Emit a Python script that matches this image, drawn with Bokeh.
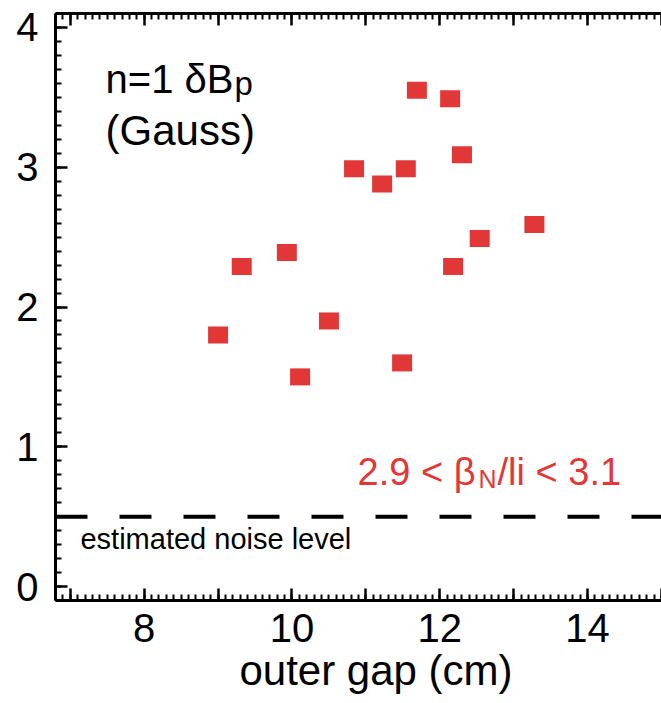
from bokeh.plotting import figure
from bokeh.models import (ColumnDataSource, Range1d, LinearAxis, SingleIntervalTicker,
                          Span, Label, CustomLabelingPolicy)
from bokeh.embed import file_html
from bokeh.resources import INLINE

# ---- data ----
outer_gap = [9.00, 9.32, 9.93, 10.11, 10.50, 10.84, 11.22, 11.54, 11.49,
             11.69, 12.14, 12.30, 12.18, 12.54, 13.28]
delta_bp = [1.80, 2.29, 2.39, 1.50, 1.90, 2.99, 2.88, 2.99, 1.60,
            3.55, 3.49, 3.09, 2.29, 2.49, 2.59]
noise_level = 0.5
x_ticks = [8, 10, 12, 14]
x_tick_labels = ["8", "10", "12", "14"]
y_ticks = [0, 1, 2, 3, 4]
y_tick_labels = ["0", "1", "2", "3", "4"]
x_title = "outer gap (cm)"

FONT = "Liberation Sans"
RED = "#e23737"

src = ColumnDataSource(data=dict(x=outer_gap, y=delta_bp))

p = figure(width=661, height=703, output_backend="svg", toolbar_location=None,
           x_range=Range1d(6.8, 15.0), y_range=Range1d(-0.1, 4.1),
           x_axis_location=None, y_axis_location=None,
           min_border_left=55, min_border_right=0, min_border_top=13,
           min_border_bottom=103)
p.outline_line_color = None
p.xgrid.visible = False
p.ygrid.visible = False
p.background_fill_color = "white"
p.border_fill_color = "white"


def style_axis(ax):
    ax.axis_line_width = 3
    ax.axis_line_color = "black"
    ax.major_tick_in = 12
    ax.major_tick_out = 0
    ax.minor_tick_in = 6
    ax.minor_tick_out = 0
    ax.major_tick_line_width = 2.5
    ax.minor_tick_line_width = 2
    ax.major_tick_line_color = "black"
    ax.minor_tick_line_color = "black"
    ax.major_label_text_font = FONT
    ax.major_label_text_color = "black"
    ax.major_label_text_font_size = "40px"


xticker = SingleIntervalTicker(interval=1, num_minor_ticks=10)
yticker = SingleIntervalTicker(interval=1, num_minor_ticks=10)

# show labels only on the even integers (long ticks on every integer)
even_only = CustomLabelingPolicy(code="""
    for (const i of indices) {
        if (i % 2 == 1) yield i
    }
""")
no_labels = CustomLabelingPolicy(code="return []")

# the original frame was wider (cropped at the right), so its title sits
# right of this frame's centre: pad it on the left with no-break spaces
xaxis = LinearAxis(ticker=xticker, axis_label="\u00a0\u00a0\u00a0" + x_title)
style_axis(xaxis)
xaxis.major_label_overrides = {t: lab for t, lab in zip(x_ticks, x_tick_labels)}
xaxis.major_label_policy = even_only
xaxis.major_label_standoff = 13
xaxis.axis_label_text_font = FONT
xaxis.axis_label_text_font_size = "42px"
xaxis.axis_label_text_font_style = "normal"
xaxis.axis_label_text_color = "black"
xaxis.axis_label_standoff = 2
p.add_layout(xaxis, "below")

xtop = LinearAxis(ticker=xticker)
style_axis(xtop)
xtop.major_label_text_font_size = "1px"
xtop.major_label_standoff = 0
xtop.major_label_policy = no_labels
p.add_layout(xtop, "above")

yaxis = LinearAxis(ticker=yticker)
style_axis(yaxis)
yaxis.major_label_overrides = {t: lab for t, lab in zip(y_ticks, y_tick_labels)}
yaxis.major_label_standoff = 17
p.add_layout(yaxis, "left")

# noise level
p.add_layout(Span(location=noise_level, dimension="width", line_color="black",
                  line_width=4, line_dash="32 32"))

# data squares
p.rect(x="x", y="y", width=20, height=17, width_units="screen",
       height_units="screen", source=src, fill_color=RED, line_color=None)

# texts
p.add_layout(Label(x=7.477, y=3.63, text="n=1 \u03b4B", text_font=FONT,
                   text_font_size="40px", text_color="black",
                   text_baseline="alphabetic"))
p.add_layout(Label(x=7.477, y=3.63, x_offset=129, y_offset=-4, text="p",
                   text_font=FONT, text_font_size="33px", text_color="black",
                   text_baseline="alphabetic"))
p.add_layout(Label(x=7.477, y=3.26, text="(Gauss)", text_font=FONT,
                   text_font_size="42px", text_color="black",
                   text_baseline="alphabetic"))

p.add_layout(Label(x=10.887, y=0.821, text="2.9 < \u03b2", text_font=FONT,
                   text_font_size="38px", text_color=RED,
                   text_baseline="alphabetic"))
p.add_layout(Label(x=10.887, y=0.821, x_offset=121, y_offset=-7, text="N",
                   text_font=FONT, text_font_size="25px", text_color=RED,
                   text_baseline="alphabetic"))
p.add_layout(Label(x=10.887, y=0.821, x_offset=140, text="/li < 3.1",
                   text_font=FONT, text_font_size="38px", text_color=RED,
                   text_baseline="alphabetic"))

p.add_layout(Label(x=7.138, y=0.343, text="estimated noise level",
                   text_font=FONT, text_font_size="29px", text_color="black",
                   text_baseline="alphabetic"))

open("out.html", "w").write(file_html(p, INLINE))
